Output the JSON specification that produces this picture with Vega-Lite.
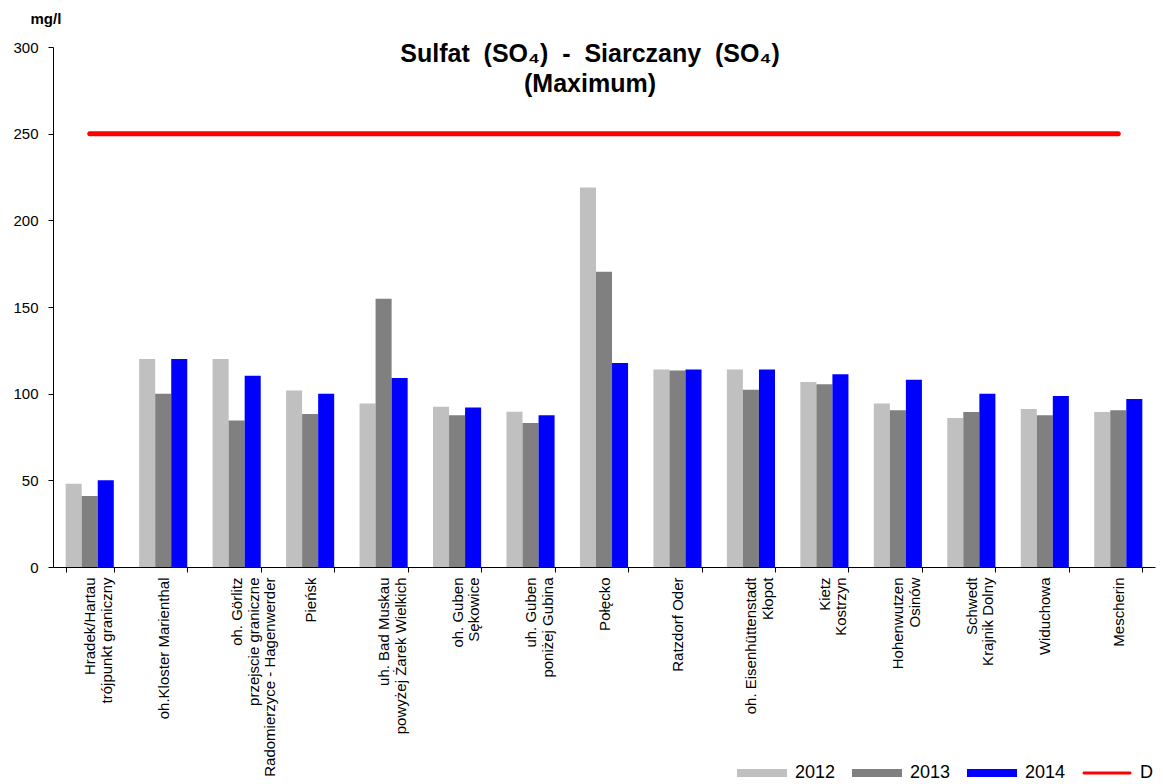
{
  "$schema": "https://vega.github.io/schema/vega-lite/v6.json",
  "width": 1102,
  "height": 520,
  "autosize": {"type": "none"},
  "padding": {"left": 53, "top": 47, "right": 8, "bottom": 217},
  "background": "white",
  "config": {"view": {"stroke": null}, "font": "Liberation Sans"},
  "title": {
    "text": ["Sulfat\u00a0 (SO₄)\u00a0 -\u00a0 Siarczany\u00a0 (SO₄)", "(Maximum)"],
    "anchor": "middle",
    "frame": "group",
    "fontSize": 25,
    "fontWeight": "bold",
    "font": "Liberation Sans",
    "color": "black",
    "lineHeight": 30,
    "dx": -14,
    "offset": -86
  },
  "data": {
    "values": [
      {"station": "Hradek/Hartau|trójpunkt graniczny", "series": "2012", "value": 48},
      {"station": "Hradek/Hartau|trójpunkt graniczny", "series": "2013", "value": 41},
      {"station": "Hradek/Hartau|trójpunkt graniczny", "series": "2014", "value": 50},
      {"station": "Hradek/Hartau|trójpunkt graniczny", "series": "D", "value": 250},
      {"station": "oh.Kloster Marienthal", "series": "2012", "value": 120},
      {"station": "oh.Kloster Marienthal", "series": "2013", "value": 100},
      {"station": "oh.Kloster Marienthal", "series": "2014", "value": 120},
      {"station": "oh.Kloster Marienthal", "series": "D", "value": 250},
      {"station": "oh. Görlitz|przejscie graniczne|Radomierzyce - Hagenwerder", "series": "2012", "value": 120},
      {"station": "oh. Görlitz|przejscie graniczne|Radomierzyce - Hagenwerder", "series": "2013", "value": 84.5},
      {"station": "oh. Görlitz|przejscie graniczne|Radomierzyce - Hagenwerder", "series": "2014", "value": 110.4},
      {"station": "oh. Görlitz|przejscie graniczne|Radomierzyce - Hagenwerder", "series": "D", "value": 250},
      {"station": "Pieńsk", "series": "2012", "value": 101.8},
      {"station": "Pieńsk", "series": "2013", "value": 88.3},
      {"station": "Pieńsk", "series": "2014", "value": 100},
      {"station": "Pieńsk", "series": "D", "value": 250},
      {"station": "uh. Bad Muskau|powyżej Żarek Wielkich", "series": "2012", "value": 94.3},
      {"station": "uh. Bad Muskau|powyżej Żarek Wielkich", "series": "2013", "value": 154.8},
      {"station": "uh. Bad Muskau|powyżej Żarek Wielkich", "series": "2014", "value": 109},
      {"station": "uh. Bad Muskau|powyżej Żarek Wielkich", "series": "D", "value": 250},
      {"station": "oh. Guben|Sękowice", "series": "2012", "value": 92.5},
      {"station": "oh. Guben|Sękowice", "series": "2013", "value": 87.5},
      {"station": "oh. Guben|Sękowice", "series": "2014", "value": 92},
      {"station": "oh. Guben|Sękowice", "series": "D", "value": 250},
      {"station": "uh. Guben|poniżej Gubina", "series": "2012", "value": 89.6},
      {"station": "uh. Guben|poniżej Gubina", "series": "2013", "value": 83.1},
      {"station": "uh. Guben|poniżej Gubina", "series": "2014", "value": 87.5},
      {"station": "uh. Guben|poniżej Gubina", "series": "D", "value": 250},
      {"station": "Połęcko", "series": "2012", "value": 219},
      {"station": "Połęcko", "series": "2013", "value": 170.4},
      {"station": "Połęcko", "series": "2014", "value": 117.7},
      {"station": "Połęcko", "series": "D", "value": 250},
      {"station": "Ratzdorf Oder", "series": "2012", "value": 114},
      {"station": "Ratzdorf Oder", "series": "2013", "value": 113.3},
      {"station": "Ratzdorf Oder", "series": "2014", "value": 114},
      {"station": "Ratzdorf Oder", "series": "D", "value": 250},
      {"station": "oh. Eisenhüttenstadt|Kłopot", "series": "2012", "value": 114},
      {"station": "oh. Eisenhüttenstadt|Kłopot", "series": "2013", "value": 102.3},
      {"station": "oh. Eisenhüttenstadt|Kłopot", "series": "2014", "value": 114},
      {"station": "oh. Eisenhüttenstadt|Kłopot", "series": "D", "value": 250},
      {"station": "Kietz|Kostrzyn", "series": "2012", "value": 106.7},
      {"station": "Kietz|Kostrzyn", "series": "2013", "value": 105.4},
      {"station": "Kietz|Kostrzyn", "series": "2014", "value": 111.2},
      {"station": "Kietz|Kostrzyn", "series": "D", "value": 250},
      {"station": "Hohenwutzen|Osinów", "series": "2012", "value": 94.3},
      {"station": "Hohenwutzen|Osinów", "series": "2013", "value": 90.4},
      {"station": "Hohenwutzen|Osinów", "series": "2014", "value": 108.1},
      {"station": "Hohenwutzen|Osinów", "series": "D", "value": 250},
      {"station": "Schwedt|Krajnik Dolny", "series": "2012", "value": 86},
      {"station": "Schwedt|Krajnik Dolny", "series": "2013", "value": 89.4},
      {"station": "Schwedt|Krajnik Dolny", "series": "2014", "value": 100},
      {"station": "Schwedt|Krajnik Dolny", "series": "D", "value": 250},
      {"station": "Widuchowa", "series": "2012", "value": 91.2},
      {"station": "Widuchowa", "series": "2013", "value": 87.5},
      {"station": "Widuchowa", "series": "2014", "value": 98.7},
      {"station": "Widuchowa", "series": "D", "value": 250},
      {"station": "Mescherin", "series": "2012", "value": 89.4},
      {"station": "Mescherin", "series": "2013", "value": 90.4},
      {"station": "Mescherin", "series": "2014", "value": 96.9},
      {"station": "Mescherin", "series": "D", "value": 250}
    ]
  },
  "encoding": {
    "x": {
      "field": "station",
      "type": "nominal",
      "sort": null,
      "scale": {"paddingInner": 0.345, "paddingOuter": 0.1725},
      "axis": {
        "title": null,
        "labelAngle": 270,
        "labelAlign": "right",
        "labelBaseline": "middle",
        "labelExpr": "split(datum.label, '|')",
        "labelFontSize": 15,
        "labelLineHeight": 16.5,
        "labelColor": "black",
        "labelPadding": 5,
        "labelLimit": 0,
        "tickBand": "extent",
        "tickColor": "black",
        "tickSize": 5,
        "domainColor": "black",
        "labelFont": "Liberation Sans"
      }
    },
    "y": {
      "field": "value",
      "type": "quantitative",
      "scale": {"domain": [0, 300], "nice": false},
      "axis": {
        "values": [0, 50, 100, 150, 200, 250, 300],
        "grid": false,
        "title": "mg/l",
        "titleAngle": 0,
        "titleAlign": "left",
        "titleBaseline": "alphabetic",
        "titleX": -23,
        "titleY": -24,
        "titleFontSize": 15,
        "titleFontWeight": "bold",
        "titleFont": "Liberation Sans",
        "titleColor": "black",
        "labelFontSize": 15,
        "labelColor": "black",
        "labelFont": "Liberation Sans",
        "labelPadding": 10,
        "tickColor": "black",
        "tickSize": 5,
        "domainColor": "black"
      }
    },
    "color": {
      "field": "series",
      "type": "nominal",
      "scale": {"domain": ["2012", "2013", "2014", "D"], "range": ["#C0C0C0", "#808080", "#0000FF", "#FF0000"]},
      "legend": {
        "title": null,
        "orient": "none",
        "direction": "horizontal",
        "columns": 4,
        "legendX": 684,
        "legendY": 701,
        "labelFontSize": 18,
        "labelFont": "Liberation Sans",
        "labelColor": "black",
        "labelOffset": 8,
        "columnPadding": 16,
        "symbolSize": 2500,
        "encode": {
          "symbols": {
            "update": {
              "shape": {"signal": "datum.value === 'D' ? 'M-0.92,-0.06H0.92A0.06,0.06 0 0 1 0.92,0.06H-0.92A0.06,0.06 0 0 1 -0.92,-0.06Z' : 'M-1,-0.16H1V0.16H-1Z'"},
              "fill": {"scale": "color", "field": "value"},
              "stroke": {"value": "transparent"},
              "strokeWidth": {"value": 0},
              "opacity": {"value": 1}
            }
          }
        }
      }
    }
  },
  "layer": [
    {
      "transform": [{"filter": "datum.series !== 'D'"}],
      "mark": {"type": "bar"},
      "encoding": {
        "xOffset": {"field": "series", "type": "nominal", "scale": {"domain": ["2012", "2013", "2014"]}}
      }
    },
    {
      "transform": [{"filter": "datum.series === 'D'"}],
      "mark": {"type": "line", "strokeWidth": 5, "strokeCap": "round"},
      "encoding": {}
    }
  ]
}
